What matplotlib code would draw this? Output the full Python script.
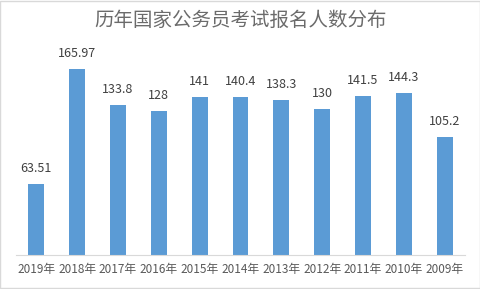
import numpy as np
import matplotlib.pyplot as plt

plt.rcParams['font.family'] = ['Noto Sans CJK SC', 'DejaVu Sans']

# data
years = ['2019年', '2018年', '2017年', '2016年', '2015年', '2014年',
         '2013年', '2012年', '2011年', '2010年', '2009年']
counts = [63.51, 165.97, 133.8, 128, 141, 140.4, 138.3, 130, 141.5, 144.3, 105.2]
labels = ['63.51', '165.97', '133.8', '128', '141', '140.4',
          '138.3', '130', '141.5', '144.3', '105.2']

fig = plt.figure(figsize=(4.81, 2.89), dpi=100)
ax = fig.add_axes([16 / 481, 34 / 289, 449 / 481, 202 / 289])

x = np.arange(len(years))
bars = ax.bar(x, counts, width=0.39, color='#5B9BD5')

# value labels above bars
for xi, v, s in zip(x, counts, labels):
    ax.text(xi, v + 8, s, ha='center', va='bottom', fontsize=9, color='#404040')

ax.set_xlim(-0.5, len(years) - 0.5)
ax.set_ylim(0, 180)
ax.set_xticks(x)
ax.set_xticklabels(years, fontsize=8.5, color='#595959')
ax.tick_params(axis='x', length=0, pad=6)
ax.set_yticks([])
for side in ['top', 'right', 'left']:
    ax.spines[side].set_visible(False)
ax.spines['bottom'].set_color('#D9D9D9')

fig.text(0.5, 1 - 20 / 289, '历年国家公务员考试报名人数分布', ha='center', va='center',
         fontsize=14, color='#6b6b6b', fontweight='light')

# light frame around the whole picture
fig.patches.append(plt.Rectangle((0.001, 0.002), 0.997, 0.996, transform=fig.transFigure,
                                 fill=False, edgecolor='#D9D9D9', linewidth=1))

fig.savefig('out.png', dpi=100)
